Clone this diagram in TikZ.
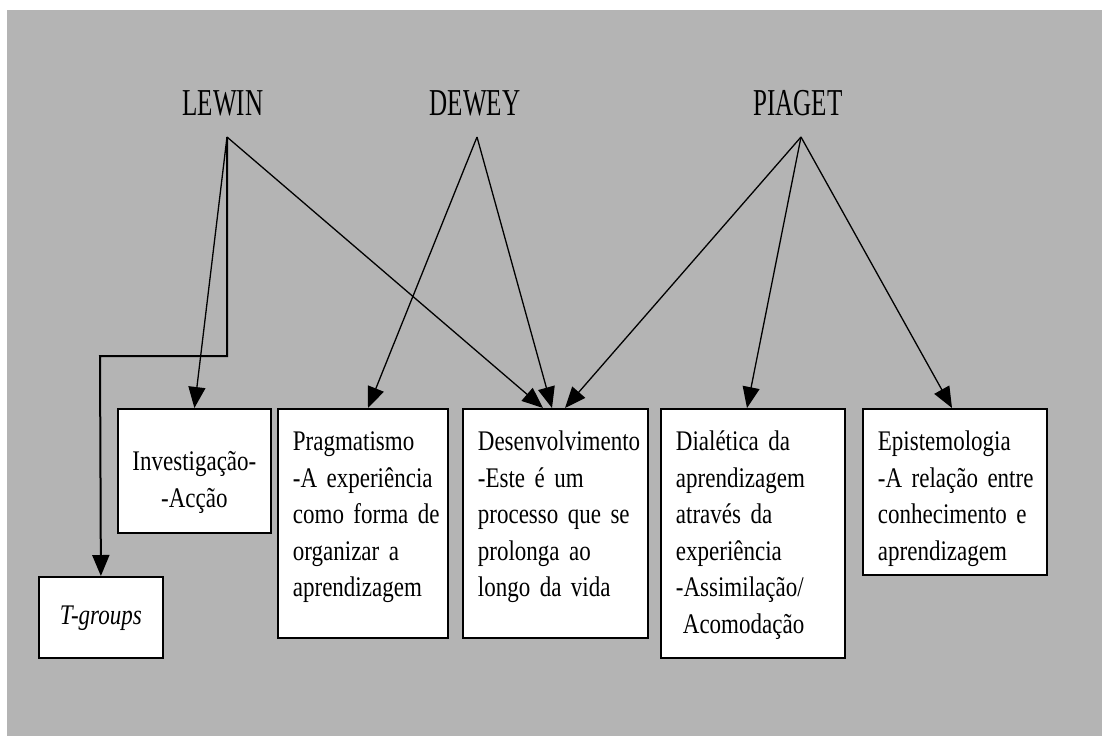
\documentclass[tikz,border=0pt]{standalone}
\usepackage{fontspec}
\setmainfont{Liberation Serif}[FakeStretch=0.81]
\newfontfamily\headfont{Liberation Serif}[FakeStretch=0.66]
\usetikzlibrary{arrows.meta}
\definecolor{panelgray}{RGB}{180,180,180}
\newcommand{\boxfont}{\fontsize{28.4pt}{36.5pt}\selectfont\hyphenpenalty=10000\exhyphenpenalty=10000}
\newcommand{\namefont}{\headfont\fontsize{38pt}{42pt}\selectfont}
\begin{document}
\begin{tikzpicture}[x=1pt,y=-1pt,
  theorist/.style={font=\namefont, anchor=base, inner sep=0pt},
  card/.style={draw, line width=1.8pt, fill=white, anchor=north west,
    inner xsep=15pt, inner ysep=0pt, align=left, font=\boxfont},
  link/.style={line width=1.3pt, -{Triangle[length=21pt,width=17pt]}},
  elbowlink/.style={line width=2pt, -{Triangle[length=21pt,width=17pt]}}
]
\useasboundingbox (0,0) rectangle (1102,736);
\fill[white] (0,0) rectangle (1102,736);
\fill[panelgray] (7,10) rectangle (1102,736);

% theorists
\node[theorist] (lewin) at (223,115) {LEWIN};
\node[theorist] (dewey) at (475,115) {DEWEY};
\node[theorist] (piaget) at (798,115) {PIAGET};
\coordinate (lewinP) at (227,137);
\coordinate (deweyP) at (477,137);
\coordinate (piagetP) at (801,137);
\coordinate (lbend) at (100,356);

% concept boxes
\node[card, align=center, text width=131pt, minimum width=153pt,
      inner xsep=11pt, text height=62pt, text depth=62pt] (inv) at (117,408)
  {Investigação-\\-Acção};
\node[card, align=center, text width=94pt, minimum width=124pt,
      text height=48pt, text depth=33pt] (tg) at (38,576)
  {\itshape T-groups};
\node[card, text width=140pt, minimum width=170pt,
      text height=42pt, text depth=187pt] (prag) at (277,408)
  {Pragmatismo\\-A~experiência\\como~forma~de\\organizar~a\\aprendizagem};
\node[card, text width=155pt, minimum width=185pt,
      text height=42pt, text depth=187pt] (des) at (462,408)
  {Desenvolvimento\\-Este~é~um\\processo~que~se\\prolonga~ao\\longo~da~vida};
\node[card, text width=154pt, minimum width=184pt,
      text height=42pt, text depth=207pt] (dial) at (660,408)
  {Dialética~da\\aprendizagem\\através~da\\experiência\\-Assimilação/\\\hspace*{7pt}Acomodação};
\node[card, text width=154pt, minimum width=184pt,
      text height=42pt, text depth=124pt] (epi) at (862,408)
  {Epistemologia\\-A~relação~entre\\conhecimento~e\\aprendizagem};

% influences
\draw[link] (lewinP) -- (inv.north);
\draw[elbowlink] (lewinP) |- (lbend) -- (tg.north);
\draw[link] (lewinP) -- (des.north -| 543,0);
\draw[link] (deweyP) -- (prag.north -| 368,0);
\draw[link] (deweyP) -- (des.north -| 552,0);
\draw[link] (piagetP) -- (des.north -| 565,0);
\draw[link] (piagetP) -- (dial.north -| 747,0);
\draw[link] (piagetP) -- (epi.north -| 952,0);
\end{tikzpicture}
\end{document}
